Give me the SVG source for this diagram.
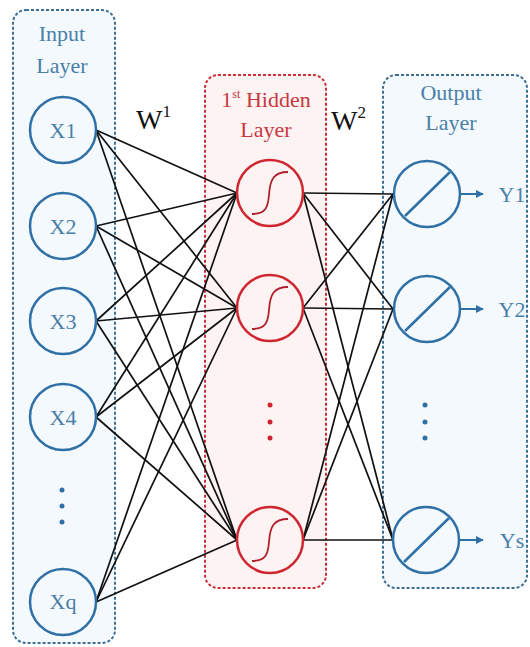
<svg xmlns="http://www.w3.org/2000/svg" width="530" height="647" viewBox="0 0 530 647">
<defs>
<style>
.bg{fill:#ffffff}
.boxb{fill:#f3f9fd;stroke:#3f6f92;stroke-width:2;stroke-dasharray:3 2}
.boxr{fill:#fdf3f3;stroke:#c8303a;stroke-width:2;stroke-dasharray:3 2}
.nb{fill:none;stroke:#2f70a6;stroke-width:2.5}
.nr{fill:none;stroke:#cf2630;stroke-width:2.5}
.sig{fill:none;stroke:#b0202a;stroke-width:1.8}
.lbl{font-family:"Liberation Serif","Times New Roman",serif;font-size:22px;text-anchor:middle}
.tb{fill:#4a7fa8}
.tr{fill:#c8383f}
.w{font-family:"Liberation Serif","Times New Roman",serif;font-size:28px;fill:#111}
.c line{stroke:#111;stroke-width:1.7}
.dotb{fill:#2f70a6}
.dotr{fill:#cf2630}
</style>
<marker id="ah" viewBox="0 0 10 10" refX="9" refY="5" markerWidth="4" markerHeight="4" orient="auto">
<path d="M0,0 L10,5 L0,10 z" fill="#2f70a6"/>
</marker>
</defs>
<rect class="bg" x="0" y="0" width="530" height="647"/>

<g id="input-layer">
<rect class="boxb" x="13" y="10" width="102" height="633" rx="13"/>
<text class="lbl tb" x="62" y="41">Input</text>
<text class="lbl tb" x="62" y="73">Layer</text>
</g>
<g id="hidden-layer">
<rect class="boxr" x="205" y="75" width="121" height="513" rx="13"/>
<text class="lbl tr" x="266" y="107">1<tspan font-size="12" dy="-9">st</tspan><tspan dy="9"> Hidden</tspan></text>
<text class="lbl tr" x="266" y="137">Layer</text>
</g>
<g id="output-layer">
<rect class="boxb" x="383" y="75" width="144" height="513" rx="13"/>
<text class="lbl tb" x="451" y="100">Output</text>
<text class="lbl tb" x="451" y="130">Layer</text>
</g>

<g id="connectors" class="c">
<line x1="96" y1="130" x2="237" y2="193"/><line x1="96" y1="130" x2="237" y2="308"/><line x1="96" y1="130" x2="237" y2="540"/>
<line x1="96" y1="226" x2="237" y2="193"/><line x1="96" y1="226" x2="237" y2="308"/><line x1="96" y1="226" x2="237" y2="540"/>
<line x1="96" y1="321" x2="237" y2="193"/><line x1="96" y1="321" x2="237" y2="308"/><line x1="96" y1="321" x2="237" y2="540"/>
<line x1="96" y1="417" x2="237" y2="193"/><line x1="96" y1="417" x2="237" y2="308"/><line x1="96" y1="417" x2="237" y2="540"/>
<line x1="96" y1="602" x2="237" y2="193"/><line x1="96" y1="602" x2="237" y2="308"/><line x1="96" y1="602" x2="237" y2="540"/>
<line x1="303" y1="193" x2="393" y2="194"/><line x1="303" y1="193" x2="393" y2="309"/><line x1="303" y1="193" x2="393" y2="540"/>
<line x1="303" y1="308" x2="393" y2="194"/><line x1="303" y1="308" x2="393" y2="309"/><line x1="303" y1="308" x2="393" y2="540"/>
<line x1="303" y1="540" x2="393" y2="194"/><line x1="303" y1="540" x2="393" y2="309"/><line x1="303" y1="540" x2="393" y2="540"/>
<line x1="460" y1="194" x2="483" y2="194" style="stroke:#2f70a6;stroke-width:2" marker-end="url(#ah)"/>
<line x1="460" y1="309" x2="483" y2="309" style="stroke:#2f70a6;stroke-width:2" marker-end="url(#ah)"/>
<line x1="459" y1="540" x2="483" y2="540" style="stroke:#2f70a6;stroke-width:2" marker-end="url(#ah)"/>
</g>

<g id="x1"><circle class="nb" cx="63" cy="130" r="33"/><text class="lbl tb" x="63" y="138">X1</text></g>
<g id="x2"><circle class="nb" cx="63" cy="226" r="33"/><text class="lbl tb" x="63" y="234">X2</text></g>
<g id="x3"><circle class="nb" cx="63" cy="321" r="33"/><text class="lbl tb" x="63" y="329">X3</text></g>
<g id="x4"><circle class="nb" cx="63" cy="417" r="33"/><text class="lbl tb" x="63" y="425">X4</text></g>
<g id="input-dots"><circle class="dotb" cx="62" cy="490" r="2.5"/><circle class="dotb" cx="62" cy="506" r="2.5"/><circle class="dotb" cx="62" cy="522" r="2.5"/></g>
<g id="xq"><circle class="nb" cx="63" cy="602" r="33"/><text class="lbl tb" x="63" y="609">Xq</text></g>

<g id="h1"><circle class="nr" cx="270" cy="193" r="33"/><path class="sig" d="M252,214 C266,214 268,207 269,195 C270,179 274,172 288,172"/></g>
<g id="h2"><circle class="nr" cx="270" cy="308" r="33"/><path class="sig" d="M252,329 C266,329 268,322 269,310 C270,294 274,287 288,287"/></g>
<g id="hidden-dots"><circle class="dotr" cx="270" cy="405" r="2.5"/><circle class="dotr" cx="270" cy="422" r="2.5"/><circle class="dotr" cx="270" cy="438" r="2.5"/></g>
<g id="h3"><circle class="nr" cx="270" cy="540" r="33"/><path class="sig" d="M252,561 C266,561 268,554 269,542 C270,526 274,519 288,519"/></g>

<g id="o1"><circle class="nb" cx="427" cy="194" r="33"/><line x1="405" y1="216" x2="450" y2="172" stroke="#2f70a6" stroke-width="2.5"/><text class="lbl tb" x="512" y="202">Y1</text></g>
<g id="o2"><circle class="nb" cx="427" cy="309" r="33"/><line x1="405" y1="331" x2="450" y2="287" stroke="#2f70a6" stroke-width="2.5"/><text class="lbl tb" x="512" y="317">Y2</text></g>
<g id="output-dots"><circle class="dotb" cx="425" cy="405" r="2.5"/><circle class="dotb" cx="425" cy="422" r="2.5"/><circle class="dotb" cx="425" cy="438" r="2.5"/></g>
<g id="os"><circle class="nb" cx="426" cy="540" r="33"/><line x1="404" y1="562" x2="449" y2="518" stroke="#2f70a6" stroke-width="2.5"/><text class="lbl tb" x="512" y="548">Ys</text></g>

<g id="w1"><text class="w" x="136" y="129">W<tspan font-size="17" dy="-12">1</tspan></text></g>
<g id="w2"><text class="w" x="331" y="130">W<tspan font-size="17" dy="-12">2</tspan></text></g>
</svg>
